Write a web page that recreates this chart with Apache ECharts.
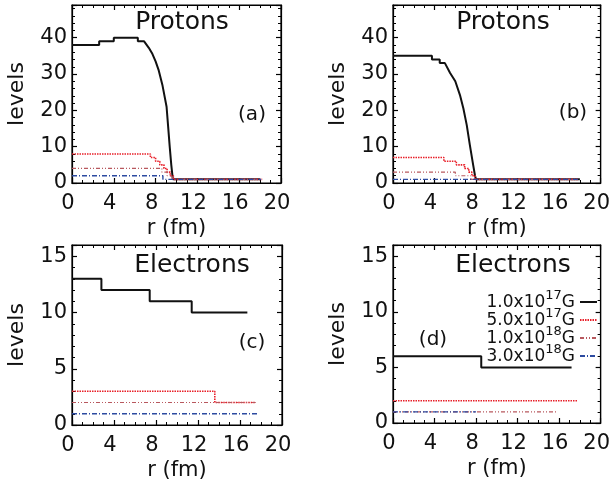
<!DOCTYPE html>
<html>
<head>
<meta charset="utf-8">
<script src="https://cdn.jsdelivr.net/npm/echarts@6/dist/echarts.min.js"></script>
<style>
  html, body { margin: 0; background: #fff; }
  #graph { width: 613px; height: 485px; }
</style>
</head>
<body>
<div id="graph"></div>
<script>
const fieldNames = ['1.0x10^17G', '5.0x10^17G', '1.0x10^18G', '3.0x10^18G']

// protons, panel (a): [r (fm), levels]
const protonsA1 = [[0, 38], [2.6, 38], [2.6, 39], [4.0, 39], [4.0, 40], [6.3, 40], [6.3, 39], [6.9, 39], [7.0, 38.5],
  [7.35, 37.2], [7.7, 35.5], [8.0, 33.5], [8.3, 31], [8.65, 27], [9.05, 21], [9.2, 15.5], [9.35, 10], [9.5, 5], [9.65, 1], [18, 1]]
const protonsA2 = [[0, 8], [7.5, 7], [8.0, 6], [8.4, 5], [8.8, 4], [9.1, 3], [9.4, 2], [9.7, 1], [18.2, 1]]
const protonsA3 = [[0, 4], [8.6, 3], [9.1, 2], [9.6, 1], [17.8, 1]]
const protonsA4 = [[0, 2], [8.7, 1], [18.1, 1]]

// protons, panel (b)
const protonsB1 = [[0, 35], [3.75, 35], [3.75, 34], [4.5, 34], [4.5, 33], [5.0, 33], [5.5, 30.3], [6.0, 28], [6.45, 24.2],
  [6.78, 20.5], [7.1, 16], [7.4, 10.5], [7.72, 5], [7.9, 2], [8.0, 1], [18, 1]]
const protonsB2 = [[0, 7], [4.9, 6], [6.1, 5], [6.9, 4], [7.3, 3], [7.6, 2], [7.9, 1], [17.8, 1]]
const protonsB3 = [[0, 3], [6.0, 2], [7.5, 1], [17.5, 1]]
const protonsB4 = [[0, 1], [17.8, 1]]

// electrons, panel (c)
const electronsC1 = [[0, 13], [2.8, 12], [7.4, 11], [11.4, 10], [16.7, 10]]
const electronsC2 = [[0, 3], [13.6, 2], [17.5, 2]]
const electronsC3 = [[0, 2], [17.5, 2]]
const electronsC4 = [[0, 1], [17.8, 1]]

// electrons, panel (d)
const electronsD1 = [[0, 6], [8.5, 5], [17.2, 5]]
const electronsD2 = [[0, 2], [17.8, 2]]
const electronsD3 = [[0, 1], [15.8, 1]]
const electronsD4 = [[0, 1], [8.0, 1]]

const font = 'DejaVu Sans'
const colors = ['#111111', '#e8202a', '#b8585e', '#2c4aa0']
const dashes = ['solid', [1.5, 1], [4, 2, 1, 2, 1, 2], [5, 2, 1, 2]]
const widths = [2, 1.6, 1.2, 1.4]

const panels = [
  { grid: { left: 72, top: 5, width: 209, height: 178 }, ymax: 49, yint: 10,
    lines: [protonsA1, protonsA2, protonsA3, protonsA4], steps: [false, true, true, true] },
  { grid: { left: 393, top: 5, width: 210, height: 178 }, ymax: 49, yint: 10,
    lines: [protonsB1, protonsB2, protonsB3, protonsB4], steps: [false, true, true, true] },
  { grid: { left: 72, top: 245, width: 210, height: 180 }, ymax: 16, yint: 5,
    lines: [electronsC1, electronsC2, electronsC3, electronsC4], steps: [true, true, true, true] },
  { grid: { left: 393, top: 245, width: 210, height: 178 }, ymax: 16, yint: 5,
    lines: [electronsD1, electronsD2, electronsD3, electronsD4], steps: [true, true, true, true] }
]

const labels = [
  ['Protons', 182, 22, 25], ['Protons', 503, 22, 25],
  ['Electrons', 192, 265, 25], ['Electrons', 513, 265, 25],
  ['(a)', 252, 115, 20], ['(b)', 573, 113, 20], ['(c)', 252, 343, 20], ['(d)', 433, 340, 20]
]

const black = { color: '#000', width: 1.2 }

function xAxis (i, top) {
  return {
    gridIndex: i, type: 'value', min: 0, max: 20, interval: 4,
    position: top ? 'top' : 'bottom',
    axisLine: { show: true, onZero: false, lineStyle: black },
    axisTick: { show: true, inside: true, length: 5, lineStyle: black },
    minorTick: { show: true, splitNumber: 4, length: 3, lineStyle: { color: '#000', width: 1 } },
    splitLine: { show: false },
    axisLabel: top ? { show: false } : { margin: 10, padding: [0, 8, 0, 0], fontFamily: font, fontSize: 21, color: '#111' },
    name: top ? '' : 'r (fm)',
    nameLocation: 'middle',
    nameGap: 35,
    nameTextStyle: { fontFamily: font, fontSize: 21, color: '#111' }
  }
}

function yAxis (i, p, right) {
  return {
    gridIndex: i, type: 'value', min: 0, max: p.ymax, interval: p.yint,
    position: right ? 'right' : 'left',
    axisLine: { show: true, onZero: false, lineStyle: black },
    axisTick: { show: true, inside: true, length: 5, lineStyle: black },
    minorTick: { show: true, splitNumber: 5, length: 3, lineStyle: { color: '#000', width: 1 } },
    splitLine: { show: false },
    axisLabel: right ? { show: false } : {
      margin: 5, fontFamily: font, fontSize: 21, color: '#111',
      formatter: v => (v % p.yint === 0 ? String(v) : '')
    },
    name: right ? '' : 'levels',
    nameLocation: 'middle',
    nameGap: 44,
    nameTextStyle: { fontFamily: font, fontSize: 22, color: '#111' }
  }
}

const option = {
  animation: false,
  backgroundColor: '#fff',
  grid: panels.map(p => Object.assign({ show: true, borderColor: '#000', borderWidth: 1.2 }, p.grid)),
  xAxis: panels.map((p, i) => xAxis(i, false)).concat(panels.map((p, i) => xAxis(i, true))),
  yAxis: panels.map((p, i) => yAxis(i, p, false)).concat(panels.map((p, i) => yAxis(i, p, true))),
  legend: {
    data: fieldNames,
    orient: 'vertical',
    align: 'right',
    right: 15,
    top: 289,
    padding: 0,
    itemWidth: 17,
    itemHeight: 14,
    itemGap: -4,
    selectedMode: false,
    itemStyle: { opacity: 0 },
    formatter (name) {
      const parts = name.split('^')
      return '{m|' + parts[0] + '}{s|' + parts[1].slice(0, -1) + '}{m|G}'
    },
    textStyle: {
      color: '#111',
      rich: {
        m: { fontFamily: font, fontSize: 17, lineHeight: 18, verticalAlign: 'bottom', color: '#111' },
        s: { fontFamily: font, fontSize: 13, lineHeight: 13, verticalAlign: 'bottom', padding: [0, 0, 9, 0], color: '#111' }
      }
    }
  },
  graphic: labels.map(l => ({
    type: 'text', x: l[1], y: l[2],
    style: { text: l[0], fill: '#111', font: l[3] + 'px "' + font + '"', align: 'center', verticalAlign: 'middle' }
  })),
  series: []
}

panels.forEach((p, i) => {
  p.lines.forEach((data, k) => {
    option.series.push({
      type: 'line',
      name: fieldNames[k],
      xAxisIndex: i,
      yAxisIndex: i,
      data,
      step: p.steps[k] ? 'end' : false,
      symbol: 'none',
      lineStyle: { color: colors[k], width: widths[k], type: dashes[k] },
      itemStyle: { color: colors[k] }
    })
  })
})

const chart = echarts.init(document.getElementById('graph'))
chart.setOption(option)
</script>
</body>
</html>
